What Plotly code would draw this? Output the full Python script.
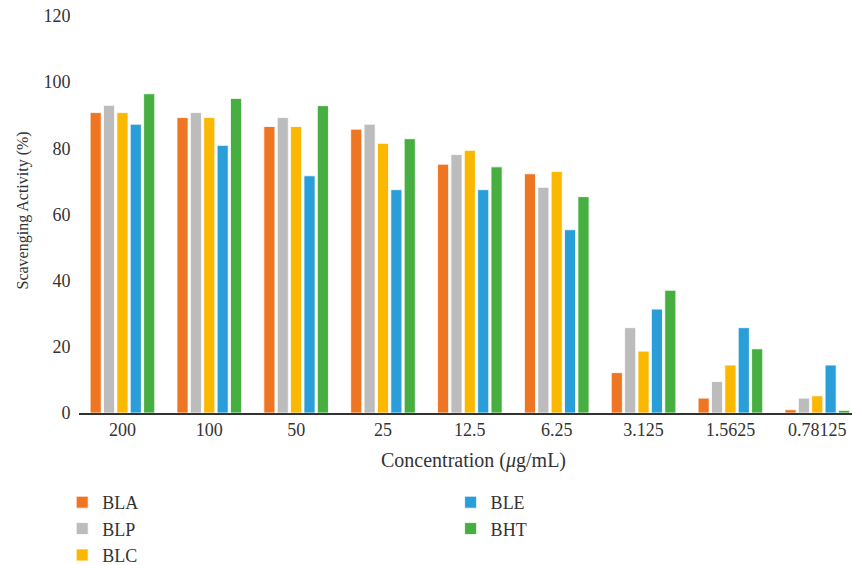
import plotly.graph_objects as go

categories = ["200", "100", "50", "25", "12.5", "6.25", "3.125", "1.5625", "0.78125"]
series_names = ["BLA", "BLP", "BLC", "BLE", "BHT"]
bla = [90.8, 89.3, 86.6, 85.8, 75.2, 72.3, 12.2, 4.5, 1.0]
blp = [93.0, 90.8, 89.3, 87.3, 78.1, 68.2, 25.8, 9.5, 4.5]
blc = [90.8, 89.3, 86.6, 81.5, 79.4, 73.0, 18.7, 14.5, 5.2]
ble = [87.3, 80.9, 71.7, 67.5, 67.5, 55.4, 31.4, 25.8, 14.5]
bht = [96.5, 95.1, 92.9, 82.9, 74.4, 65.4, 37.1, 19.4, 0.8]
colors = ["#EE7623", "#BCBCBC", "#FAB800", "#299ED9", "#46AF40"]
legend_ids = ["legend", "legend", "legend", "legend2", "legend2"]

fig = go.Figure()
for name, vals, col, lg in zip(series_names, [bla, blp, blc, ble, bht], colors, legend_ids):
    fig.add_trace(go.Bar(
        x=categories, y=vals, name=name,
        marker=dict(color=col, line=dict(color="white", width=0.8)),
        legend=lg,
    ))

font_family = "Liberation Serif"
fig.update_layout(
    width=852, height=565,
    margin=dict(l=79, r=0, t=16, b=152, autoexpand=False),
    plot_bgcolor="white", paper_bgcolor="white",
    barmode="group", bargap=0.23, bargroupgap=0.17,
    font=dict(family=font_family, size=18, color="#333333"),
    xaxis=dict(
        type="category", range=[-0.5, 8.4],
        showline=True, linecolor="#333333", linewidth=1.5,
        ticks="", showgrid=False,
        tickfont=dict(size=18),
    ),
    yaxis=dict(
        range=[0, 120], tickvals=[0, 20, 40, 60, 80, 100, 120],
        showgrid=False, zeroline=False, showline=False,
        ticks="outside", ticklen=4, tickcolor="rgba(0,0,0,0)",
        tickfont=dict(size=18),
    ),
    annotations=[
        dict(text="Concentration (<i>μ</i>g/mL)", xref="paper", yref="paper",
             x=0.5104, y=0, xanchor="center", yanchor="middle", yshift=-47,
             showarrow=False, font=dict(size=20)),
        dict(text="Scavenging Activity (%)", xref="paper", yref="paper",
             x=0, y=0.5, xanchor="center", yanchor="middle", xshift=-57, yshift=4,
             textangle=-90, showarrow=False, font=dict(size=16)),
    ],
    legend=dict(
        xref="container", yref="container",
        x=0.073, y=0.1434, xanchor="left", yanchor="top",
        orientation="v", font=dict(size=18), tracegroupgap=0,
        itemwidth=30, bgcolor="rgba(0,0,0,0)",
    ),
    legend2=dict(
        xref="container", yref="container",
        x=0.5289, y=0.1434, xanchor="left", yanchor="top",
        orientation="v", font=dict(size=18), tracegroupgap=0,
        itemwidth=30, bgcolor="rgba(0,0,0,0)",
    ),
)

fig.write_html("out.html", config={"displayModeBar": False},
               post_script="document.body.style.margin='0';")
